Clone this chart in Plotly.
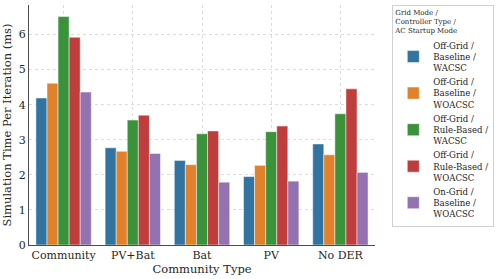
import plotly.graph_objects as go

categories = ["Community", "PV+Bat", "Bat", "PV", "No DER"]
series_names = [
    "Off-Grid /<br>Baseline /<br>WACSC",
    "Off-Grid /<br>Baseline /<br>WOACSC",
    "Off-Grid /<br>Rule-Based /<br>WACSC",
    "Off-Grid /<br>Rule-Based /<br>WOACSC",
    "On-Grid /<br>Baseline /<br>WOACSC",
]
offgrid_baseline_wacsc = [4.19, 2.77, 2.41, 1.95, 2.88]
offgrid_baseline_woacsc = [4.61, 2.67, 2.29, 2.27, 2.57]
offgrid_rule_wacsc = [6.51, 3.56, 3.17, 3.23, 3.74]
offgrid_rule_woacsc = [5.92, 3.70, 3.25, 3.39, 4.45]
ongrid_baseline_woacsc = [4.36, 2.61, 1.79, 1.82, 2.07]
colors = ["#3274a1", "#e1812c", "#3a923a", "#c03d3e", "#9372b2"]

values = [offgrid_baseline_wacsc, offgrid_baseline_woacsc, offgrid_rule_wacsc,
          offgrid_rule_woacsc, ongrid_baseline_woacsc]

fig = go.Figure()
for name, vals, c in zip(series_names, values, colors):
    fig.add_trace(go.Bar(
        x=categories, y=vals, name=name,
        marker=dict(color=c, line=dict(color="rgba(255,255,255,0.6)", width=0.8)),
    ))

font_family = "DejaVu Serif"
fig.update_layout(
    width=499, height=279,
    margin=dict(l=29, r=121, t=5, b=34),
    paper_bgcolor="white", plot_bgcolor="white",
    barmode="group", bargap=0.2, bargroupgap=0,
    font=dict(family=font_family, size=11, color="#262626"),
    showlegend=True,
    legend=dict(
        title=dict(text="Grid Mode /<br>Controller Type /<br>AC Startup Mode",
                   font=dict(size=7, family=font_family), side="top"),
        font=dict(size=8.6, family=font_family),
        x=1.05, xanchor="left", y=1.0, yanchor="top",
        bordercolor="#d0d0d0", borderwidth=1, bgcolor="white",
        itemwidth=30,
    ),
    xaxis=dict(
        title=dict(text="Community Type", font=dict(size=11.5), standoff=1),
        showline=True, linecolor="#4d4d4d", linewidth=1.2,
        showgrid=True, gridcolor="#dcdcdc", griddash="dot", gridwidth=1,
        ticks="", tickfont=dict(size=11),
        range=[-0.5, 4.5],
    ),
    yaxis=dict(
        title=dict(text="Simulation Time Per Iteration (ms)", font=dict(size=11.5), standoff=4),
        showline=True, linecolor="#4d4d4d", linewidth=1.2,
        showgrid=True, gridcolor="#dcdcdc", griddash="dot", gridwidth=1,
        ticks="", tickfont=dict(size=11),
        range=[0, 6.84], dtick=1, zeroline=False,
    ),
)

fig.write_html("out.html", config={"displayModeBar": False},
               post_script="document.body.style.margin='0';")
